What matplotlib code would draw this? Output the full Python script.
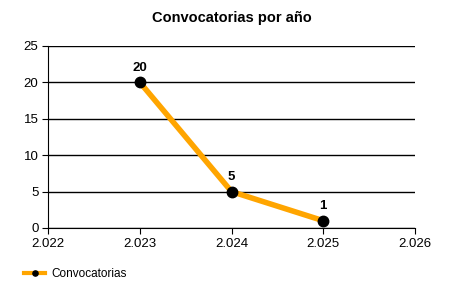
import matplotlib.pyplot as plt
from matplotlib.ticker import FuncFormatter, MultipleLocator

plt.rcParams['font.family'] = ['Liberation Sans', 'DejaVu Sans']

# Datos
anios = [2023, 2024, 2025]
convocatorias = [20, 5, 1]

fig = plt.figure(figsize=(4.5, 3), dpi=100)
ax = fig.add_axes([0.107, 0.24, 0.815, 0.607])

ax.plot(anios, convocatorias, color='#FFA500', lw=4, marker='o',
        markersize=7.5, markerfacecolor='black', markeredgecolor='black',
        label='Convocatorias', zorder=3, clip_on=False)

for x, y in zip(anios, convocatorias):
    ax.annotate(str(y), (x, y), xytext=(0, 6), textcoords='offset points',
                ha='center', va='bottom', fontsize=9.5, fontweight='bold')

ax.set_xlim(2022, 2026)
ax.set_ylim(0, 25)
ax.xaxis.set_major_locator(MultipleLocator(1))
ax.yaxis.set_major_locator(MultipleLocator(5))
ax.xaxis.set_major_formatter(FuncFormatter(lambda v, p: f"{int(v)//1000}.{int(v)%1000:03d}"))
ax.yaxis.grid(True, color='black', lw=1)
ax.set_axisbelow(True)
for s in ['top', 'right']:
    ax.spines[s].set_visible(False)
ax.tick_params(labelsize=9.5, length=4, color='black', pad=3)

ax.set_title('Convocatorias por año', fontsize=10.5, fontweight='bold', pad=17)

leg = fig.legend(loc='lower left', bbox_to_anchor=(0.03, 0.03), frameon=False,
                 fontsize=8.5, handlelength=1.8, handletextpad=0.5, markerscale=0.5)
leg.get_lines()[0].set_linewidth(3)

fig.savefig('out.png', dpi=100)
